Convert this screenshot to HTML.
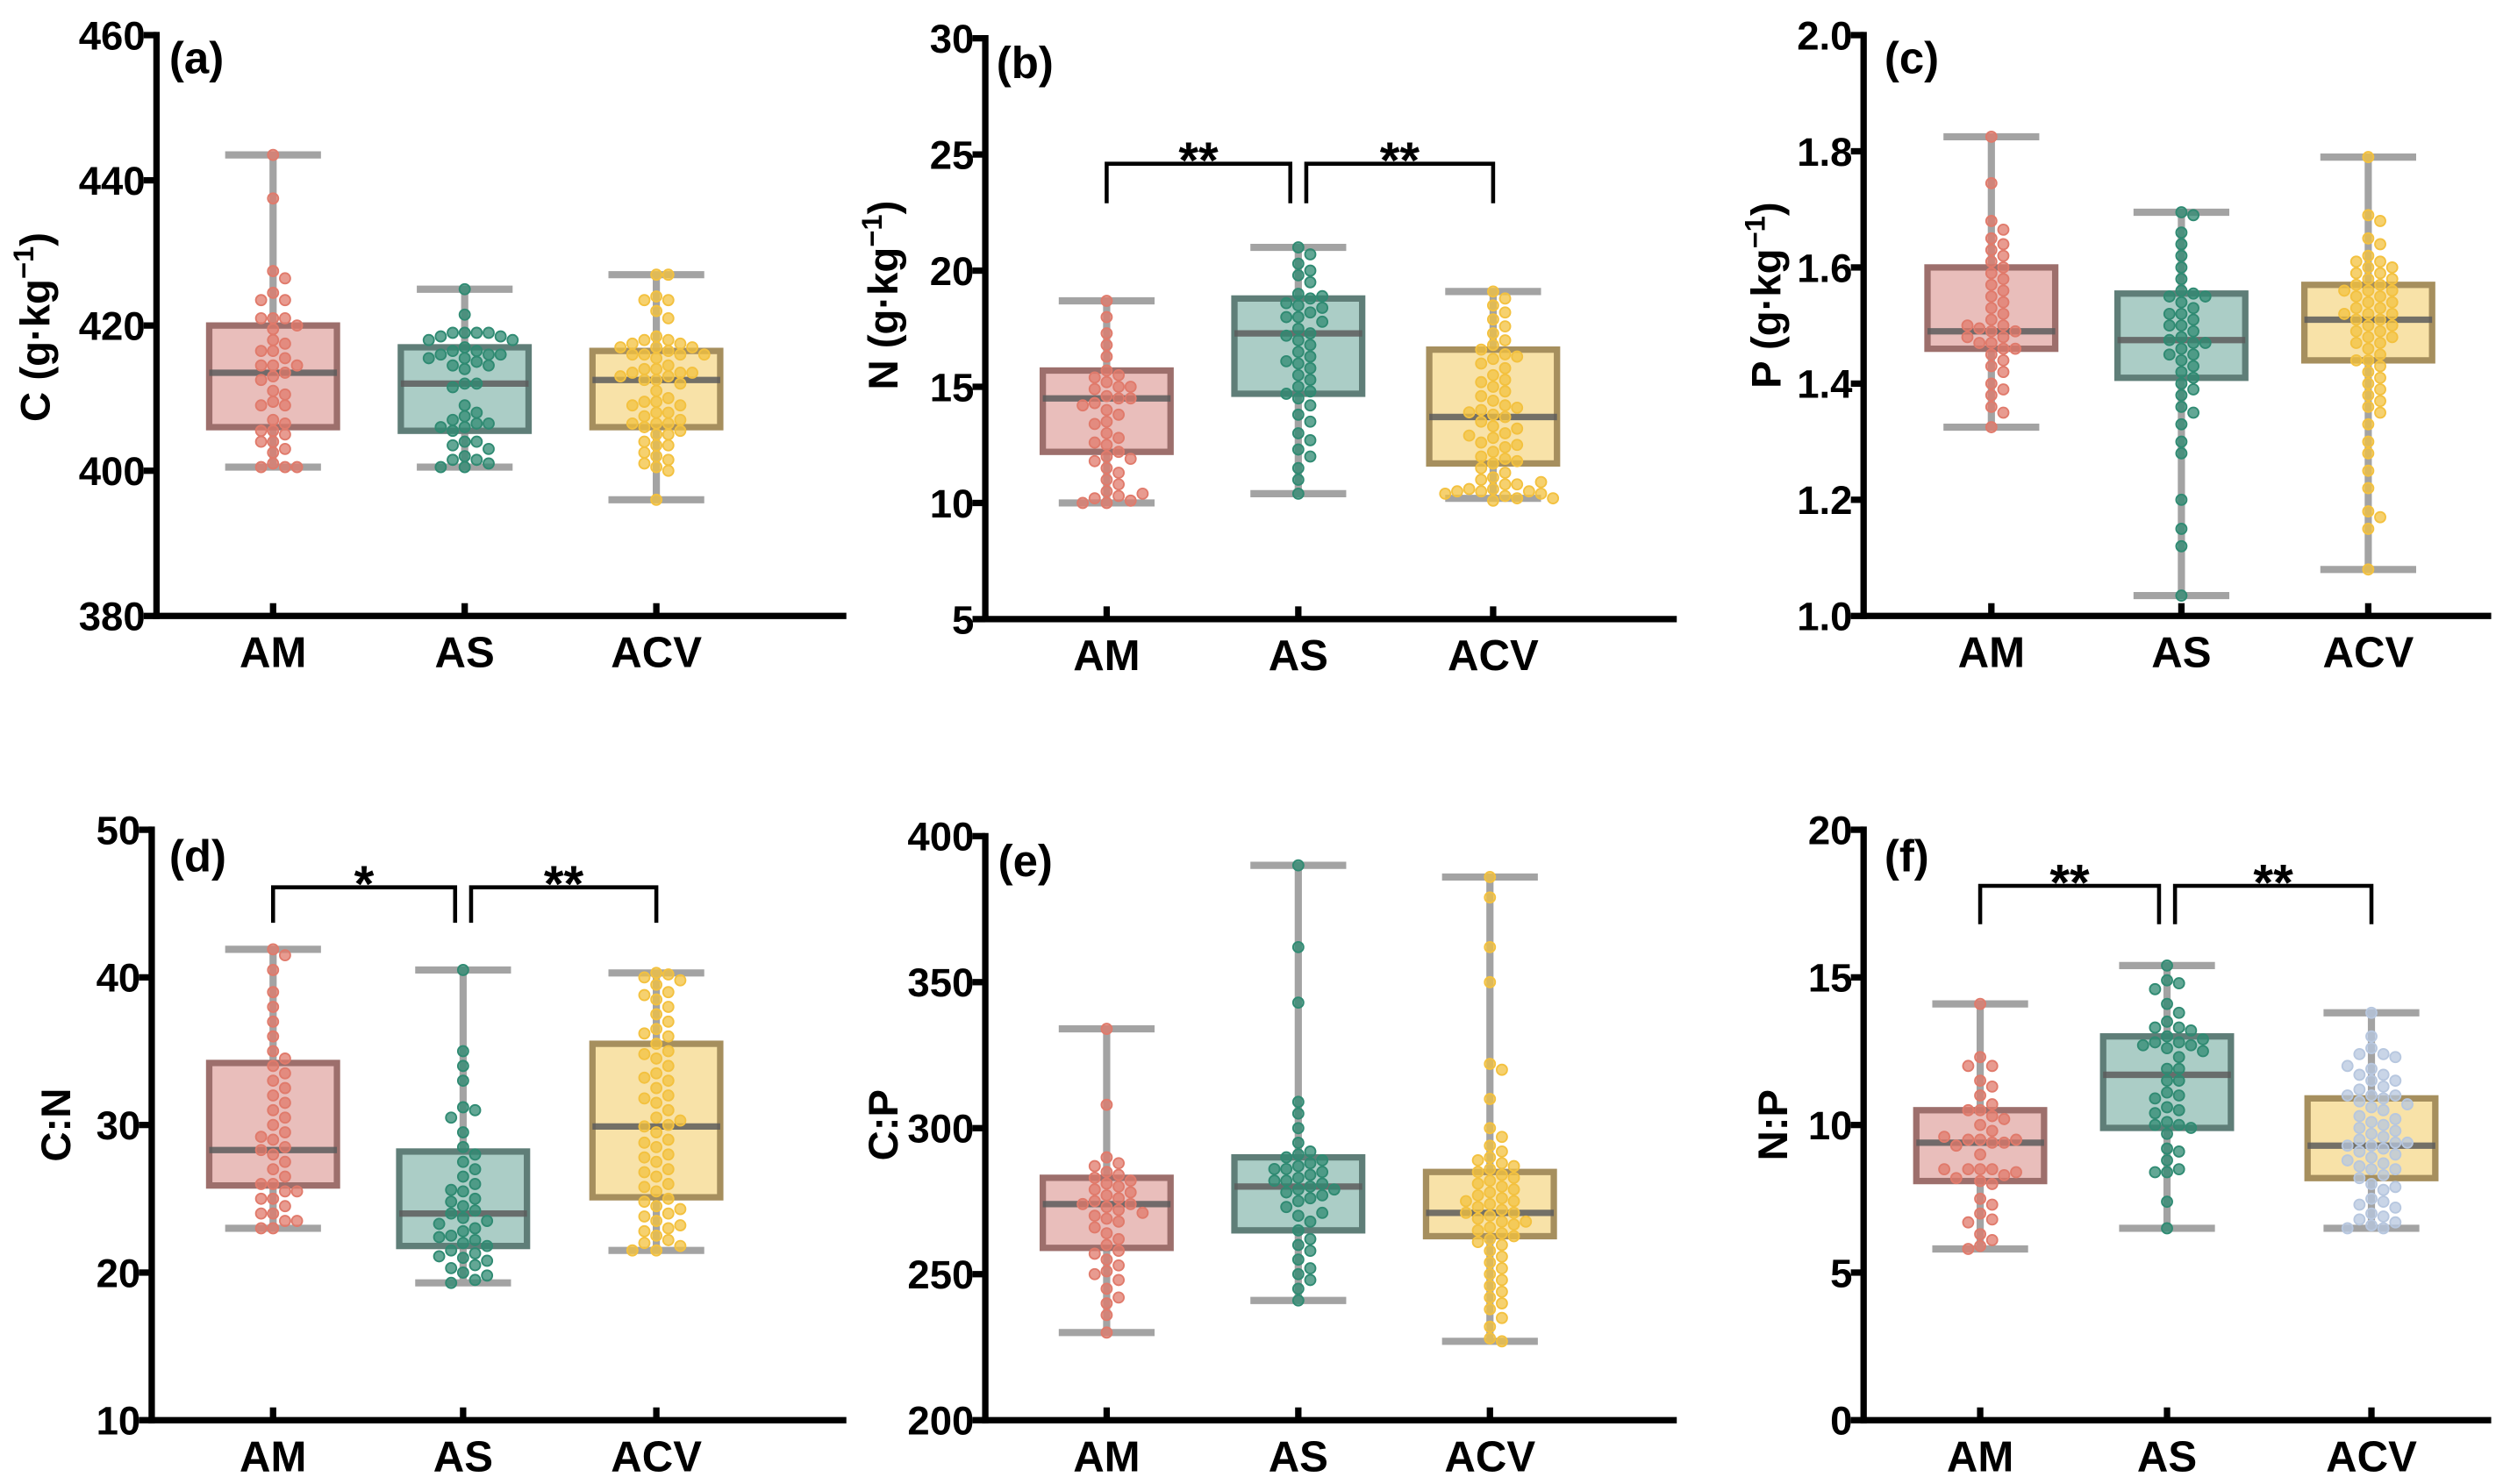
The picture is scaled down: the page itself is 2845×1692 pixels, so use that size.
<!DOCTYPE html>
<html><head><meta charset="utf-8"><style>
html,body{margin:0;padding:0;background:#fff}
svg{display:block}
text{font-family:"Liberation Sans",Arial,sans-serif;font-weight:bold;fill:#000}
</style></head><body>
<svg id="fig" xmlns="http://www.w3.org/2000/svg" width="2845" height="1692" viewBox="0 0 1563 930" preserveAspectRatio="none"></svg>
<script>
const categories = ["AM","AS","ACV"];
// box stats per panel: [min,q1,median,q3,max] for AM, AS, ACV
const statsA = [[400.5,406,413.5,420,443.5],[400.5,405.5,412,417,425],[396,406,412.5,416.5,427]];
const statsB = [[10,12.2,14.5,15.7,18.7],[10.4,14.7,17.3,18.8,21],[10.2,11.7,13.7,16.6,19.1]];
const statsC = [[1.325,1.46,1.49,1.60,1.825],[1.035,1.41,1.475,1.555,1.695],[1.08,1.44,1.51,1.57,1.79]];
const statsD = [[23,25.9,28.3,34.2,41.9],[19.3,21.8,24,28.2,40.5],[21.5,25.1,29.9,35.5,40.3]];
const statsE = [[230,259,274,283,334],[241,265,280,290,390],[227,263,271,285,386]];
const statsF = [[5.8,8.1,9.4,10.5,14.1],[6.5,9.9,11.7,13,15.4],[6.5,8.2,9.3,10.9,13.8]];

const ptsA_AM=[443.5,437.5,427.5,426.5,424.5,423.5,423.5,421,421,421,419.5,420,418,417.5,416.5,416.5,415.5,414.5,414.5,414.5,413.5,413,412.5,411,410.5,409.5,409,409,407,406.5,405.5,405.5,405,404,404,403,402.5,401,400.5,400.5,400.5];
const ptsA_AS=[425,421.5,419,419,419,419,418.5,418.5,418,418,417,416.5,416.5,416,416,416,415.5,415.5,415,414.5,414.5,414,412,412,411.5,409,408,407.5,407,406.5,406.5,406,406,405.5,404,404,403.5,403,402,401.5,401.5,401,400.5,400.5];
const ptsA_ACV=[427,427,424,423.5,423.5,422,421,418.5,418,418,417.5,417.5,417,417,417,416.5,416,416,416,416,415.5,414.5,414,414,413.5,413.5,413.5,413,413,412.5,412.5,412,411,410,409.5,409.5,409,409,408,408,407.5,407,406.5,406.5,406.5,406,405.5,405,405,404,403.5,403.5,402.5,402,401.5,401,400.5,400,396];
const ptsB_AM=[18.7,18,17.3,16.8,16.3,15.7,15.5,15.4,15.2,15,15,14.9,14.6,14.5,14.5,14.3,14.2,14,13.8,13.5,13.4,13,12.8,12.6,12.5,12.2,12,11.8,11.5,11.3,11,10.8,10.5,10.3,10.2,10.1,10,10,10.4,11.9];
const ptsB_AS=[21,20.7,20.3,20,19.8,19.5,19,18.8,18.6,18.5,18.4,18.2,18,18,17.8,17.5,17.3,17,16.8,16.5,16.3,16,15.8,15.5,15.3,15,14.8,14.7,14.5,14.2,13.8,13.5,13,12.7,12.3,12,11.5,11,10.4,17.2,16.1,18.9];
const ptsB_ACV=[19.1,18.8,18.5,18.2,17.9,17.6,17.3,17,16.8,16.6,16.4,16.2,16,15.8,15.5,15.3,15,14.8,14.6,14.4,14.2,14,13.8,13.7,13.5,13.3,13,12.8,12.6,12.4,12.2,12,11.9,11.7,11.5,11.3,11.1,11,10.8,10.8,10.6,10.6,10.5,10.5,10.5,10.4,10.4,10.3,10.2,10.2,10.1,12.5,13.2,14.1,15.2,16.3,11.8,12.9,13.9,10.9];
const ptsC_AM=[1.825,1.745,1.68,1.665,1.65,1.64,1.63,1.62,1.61,1.60,1.59,1.58,1.57,1.56,1.55,1.54,1.53,1.52,1.51,1.50,1.495,1.49,1.49,1.48,1.48,1.47,1.47,1.46,1.46,1.45,1.44,1.43,1.42,1.40,1.39,1.38,1.36,1.35,1.325,1.5];
const ptsC_AS=[1.695,1.69,1.66,1.64,1.62,1.60,1.58,1.56,1.555,1.55,1.54,1.53,1.52,1.51,1.50,1.49,1.48,1.475,1.47,1.46,1.45,1.44,1.43,1.42,1.41,1.40,1.39,1.38,1.36,1.35,1.33,1.30,1.28,1.20,1.15,1.12,1.035,1.47,1.52,1.45,1.5,1.55];
const ptsC_ACV=[1.79,1.69,1.68,1.65,1.64,1.62,1.61,1.61,1.60,1.60,1.59,1.59,1.58,1.58,1.57,1.57,1.56,1.56,1.55,1.55,1.54,1.54,1.53,1.53,1.52,1.52,1.51,1.51,1.50,1.50,1.49,1.49,1.48,1.48,1.47,1.47,1.46,1.45,1.44,1.44,1.43,1.42,1.41,1.40,1.39,1.38,1.37,1.36,1.35,1.33,1.30,1.28,1.25,1.22,1.18,1.17,1.15,1.08,1.52,1.56];
const ptsD_AM=[41.9,41.5,40.5,39,38,37,36,35,34.5,34,33.5,33,32.5,32,31.5,31,30.5,30,29.5,29,28.5,28.3,28,27.5,27,26.5,26,26,25.5,25.5,25,25,24.5,24,24,23.5,23.5,23,23,29.2];
const ptsD_AS=[40.5,35,34,33,31.2,31,30.5,29.5,28.5,28,27.5,27,26.5,26,25.5,25,24.8,24.5,24.2,24,23.7,23.5,23,22.8,22.5,22.2,22,21.8,21.5,21.3,21,20.8,20.5,20.3,20,19.8,19.5,19.3,25.6,23.3,22.4,21.1];
const ptsD_ACV=[40.3,40.2,40,39.8,39.5,39,38.5,38,37.5,37,36.5,36,35.5,35,34.5,34,33.5,33,32.5,32,31.5,31,30.5,30,29.9,29.5,29,28.5,28,27.5,27,26.5,26,25.5,25,24.8,24.5,24,23.8,23.5,23,22.8,22.5,22.2,22,21.8,21.5,21.5,30.3,33.2,36.2,38.8,26.8,27.8,28.8,31.8,34.8,24.3,23.2,25.8];
const ptsE_AM=[334,308,290,288,287,285,284,283,282,281,280,279,278,277,276,275,274,274,273,272,270,269,268,266,264,262,260,258,257,255,253,251,250,248,245,242,240,236,230,271];
const ptsE_AS=[390,362,343,309,305,300,295,292,291,290,289,288,287,286,285,284,283,282,281,280,279,278,277,276,275,273,270,268,265,262,260,258,255,252,250,248,245,241,282,279,286,271];
const ptsE_ACV=[386,379,362,350,322,320,310,300,297,294,292,290,289,288,287,286,285,284,283,282,281,280,279,278,277,276,275,274,273,272,271,271,270,269,268,267,266,265,264,263,262,261,260,258,256,254,252,250,248,246,244,242,240,238,235,232,228,227,275,268];
const ptsF_AM=[14.1,12.3,12,12,11.5,11.3,11,10.7,10.5,10.5,10.3,10.2,10,9.8,9.5,9.5,9.4,9.4,9.3,9,8.5,8.5,8.5,8.3,8.2,8.1,8,7.5,7.3,7,6.8,6.7,6.3,6.1,5.9,5.8,9.5,9.6,8.4,8.5];
const ptsF_AS=[15.4,14.9,14.8,14.6,14.1,13.8,13.5,13.3,13.3,13.2,13,12.8,12.8,12.7,12.7,12.6,12.5,12.3,11.9,11.5,11.5,11.1,11,10.9,10.6,10.5,10.1,10,10,9.9,9.7,9.2,9.1,8.8,8.5,8.4,8.4,7.4,6.5,12.9,11.9,10.4];
const ptsF_ACV=[13.8,13,12.6,12.4,12.4,12.3,11.9,11.7,11.7,11.5,11.5,11.3,11.2,11,11,11,10.9,10.8,10.7,10.6,10.5,10.3,10.1,10,9.9,9.7,9.6,9.5,9.4,9.3,9.3,9.2,9.1,9,8.9,8.7,8.6,8.5,8.5,8.3,8.2,8,7.8,7.5,7.4,7.3,7.2,7.0,6.9,6.8,6.7,6.6,6.5,6.5,9.4,10.2,8.8,7.9,12,9.8];

const ticksA=[380,400,420,440,460], ticksB=[5,10,15,20,25,30], ticksC=[1.0,1.2,1.4,1.6,1.8,2.0];
const ticksD=[10,20,30,40,50], ticksE=[200,250,300,350,400], ticksF=[0,5,10,15,20];
const tickLabelsC=["1.0","1.2","1.4","1.6","1.8","2.0"];
// significance brackets: [fromCat, toCat, label, topValue, legValue]
const sigB=[[0,1,"**",24.6,22.9],[1,2,"**",24.6,22.9]];
const sigD=[[0,1,"*",46.1,43.7],[1,2,"**",46.1,43.7]];
const sigF=[[0,1,"**",18.1,16.8],[1,2,"**",18.1,16.8]];

const NS="http://www.w3.org/2000/svg";
const svg=document.getElementById('fig');
function mk(tag,attrs,parent){const e=document.createElementNS(NS,tag);for(const k in attrs)e.setAttribute(k,attrs[k]);(parent||svg).appendChild(e);return e;}

const fills=["#e9bebb","#abcdc6","#f8e2a8"], strokes=["#9d6f6c","#5f7e78","#a68f5e"];
const dotCols=["#e07a6b","#2f8a72","#f3c13f"];

const panels=[
 {id:"a",x0:98,yTop:22,yBot:386,xEnd:530,cx:[171,291,411],ticks:ticksA,stats:statsA,pts:[ptsA_AM,ptsA_AS,ptsA_ACV],title:"C",unit:true,tx:22,ty:205,lx:106,ly:46,sig:[]},
 {id:"b",x0:617,yTop:24,yBot:388,xEnd:1050,cx:[693,813,935],ticks:ticksB,stats:statsB,pts:[ptsB_AM,ptsB_AS,ptsB_ACV],title:"N",unit:true,tx:553,ty:185,lx:624,ly:49,sig:sigB},
 {id:"c",x0:1167,yTop:22,yBot:386,xEnd:1560,cx:[1247,1366,1483],ticks:ticksC,labels:tickLabelsC,stats:statsC,pts:[ptsC_AM,ptsC_AS,ptsC_ACV],title:"P",unit:true,tx:1106,ty:185,lx:1180,ly:46,sig:[]},
 {id:"d",x0:95,yTop:520,yBot:890,xEnd:530,cx:[171,290,411],ticks:ticksD,stats:statsD,pts:[ptsD_AM,ptsD_AS,ptsD_ACV],title:"C:N",tx:35,ty:705,lx:106,ly:546,sig:sigD},
 {id:"e",x0:617,yTop:524,yBot:890,xEnd:1050,cx:[693,813,933],ticks:ticksE,stats:statsE,pts:[ptsE_AM,ptsE_AS,ptsE_ACV],title:"C:P",tx:553,ty:705,lx:625,ly:549,sig:[]},
 {id:"f",x0:1167,yTop:520,yBot:890,xEnd:1560,cx:[1240,1357,1485],ticks:ticksF,stats:statsF,pts:[ptsF_AM,ptsF_AS,ptsF_ACV],title:"N:P",tx:1110,ty:705,lx:1180,ly:546,sig:sigF,dot3:"#b7c7df"}
];

panels.forEach(p=>{
 const g=mk('g',{});
 
 
 const lo=p.ticks[0], hi=p.ticks[p.ticks.length-1];
 const y=v=>p.yBot-(v-lo)/(hi-lo)*(p.yBot-p.yTop);
 const bw=80;
 // boxes
 p.stats.forEach((s,i)=>{
  const cx=p.cx[i];
  const bg=mk('g',{},g);
  
  
  mk('line',{x1:cx,x2:cx,y1:y(s[4]),y2:y(s[0]),stroke:"#a3a3a3","stroke-width":4.5},bg);
  mk('line',{x1:cx-30,x2:cx+30,y1:y(s[4]),y2:y(s[4]),stroke:"#a3a3a3","stroke-width":4.5},bg);
  mk('line',{x1:cx-30,x2:cx+30,y1:y(s[0]),y2:y(s[0]),stroke:"#a3a3a3","stroke-width":4.5},bg);
  mk('rect',{x:cx-bw/2,y:y(s[3]),width:bw,height:y(s[1])-y(s[3]),fill:fills[i],stroke:strokes[i],"stroke-width":4},bg);
  mk('line',{x1:cx-bw/2,x2:cx+bw/2,y1:y(s[2]),y2:y(s[2]),stroke:"#5c5c5c","stroke-opacity":0.85,"stroke-width":4},bg);
 });
 // points (beeswarm placement)
 p.pts.forEach((arr,i)=>{
  const cx=p.cx[i];
  const col=(i===2&&p.dot3)?p.dot3:dotCols[i];
  const placed=[];
  arr.forEach(v=>{
   const py=y(v);
   let off=0;
   for(let k=0;k<40;k++){
    const o=(k===0)?0:((k%2?1:-1)*Math.ceil(k/2)*7.5);
    if(placed.every(q=>Math.hypot(q[0]-o,q[1]-py)>6.6)){off=o;break;}
   }
   placed.push([off,py]);
   const c=mk('circle',{cx:cx+off,cy:py,r:3.3,fill:col,"fill-opacity":0.75,stroke:col,"stroke-width":1},g);
   
   
  });
 });
 // axes
 const ax=mk('g',{},g);
 
 
 mk('line',{x1:p.x0,x2:p.x0,y1:p.yTop-2,y2:p.yBot+2,stroke:"#000","stroke-width":4},ax);
 p.ticks.forEach((t,k)=>{
  mk('line',{x1:p.x0-8,x2:p.x0,y1:y(t),y2:y(t),stroke:"#000","stroke-width":4},ax);
  const tl=mk('text',{x:p.x0-7,y:y(t)+9,"text-anchor":"end","font-size":25},ax);
  tl.textContent=p.labels?p.labels[k]:String(t);
  
  
 });
 const xa=mk('g',{},g);
 
 
 mk('line',{x1:p.x0-2,x2:p.xEnd,y1:p.yBot,y2:p.yBot,stroke:"#000","stroke-width":4},xa);
 p.cx.forEach((cx,i)=>{
  mk('line',{x1:cx,x2:cx,y1:p.yBot-8,y2:p.yBot,stroke:"#000","stroke-width":4},xa);
  const cl=mk('text',{x:cx,y:p.yBot+32,"text-anchor":"middle","font-size":27},xa);
  cl.textContent=categories[i];
  
  
 });
 // title
 const tt=mk('text',{x:0,y:0,"text-anchor":"middle","font-size":26,transform:`translate(${p.tx+9},${p.ty}) rotate(-90)`},g);
 
 
 if(p.unit){
  tt.innerHTML=p.title+' (g·kg<tspan dy="-10" font-size="18">−1</tspan><tspan dy="10">)</tspan>';
 } else tt.textContent=p.title;
 const pl=mk('text',{x:p.lx,y:p.ly,"font-size":28},g);
 pl.textContent='('+p.id+')';
 
 
 // significance
 p.sig.forEach(s=>{
  const xa1=p.cx[s[0]]+(s[0]===1?5:0), xa2=p.cx[s[1]]-(s[1]===1?5:0);
  const yt=y(s[3]), yl=y(s[4]);
  const b=mk('path',{d:`M${xa1},${yl} V${yt} H${xa2} V${yl}`,fill:"none",stroke:"#000","stroke-width":2.5},g);
  
  
  const st=mk('text',{x:(xa1+xa2)/2,y:yt+9,"text-anchor":"middle","font-size":32},g);
  st.textContent=s[2];
  
  
 });
});
</script>
</body></html>
